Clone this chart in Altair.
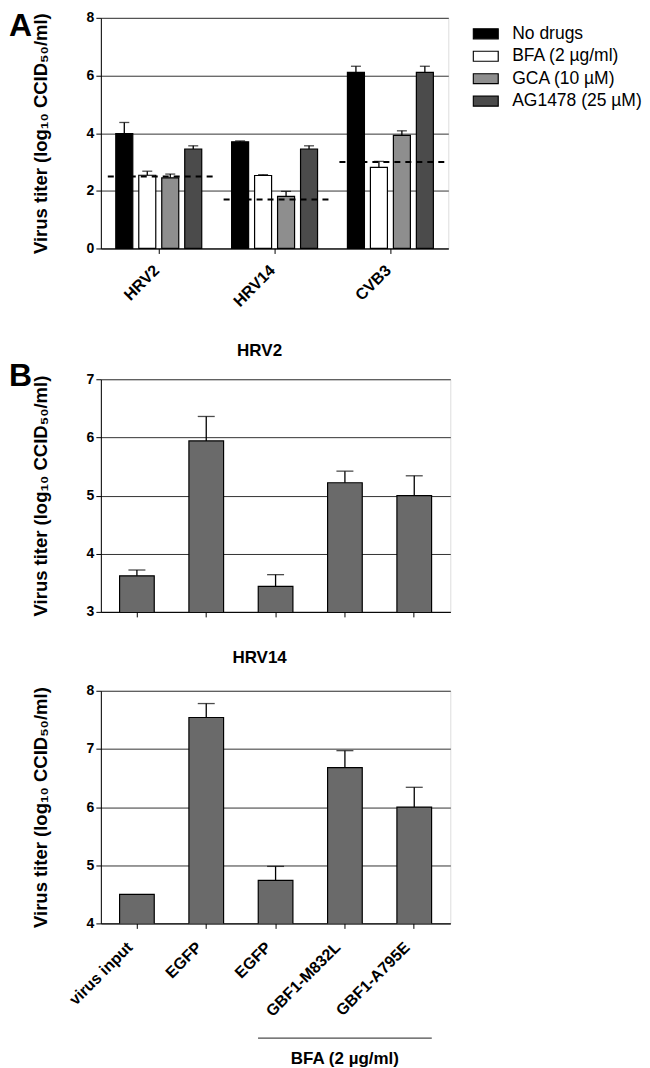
import altair as alt
import pandas as pd

FONT = "Liberation Sans"

# ---------------- Panel A data ----------------
groups = ["HRV2", "HRV14", "CVB3"]
drugs = ["No drugs", "BFA (2 µg/ml)", "GCA (10 µM)", "AG1478 (25 µM)"]
drug_colors = ["#000000", "#ffffff", "#8e8e8e", "#4b4b4b"]

titer_hrv2 = [3.98, 2.54, 2.45, 3.45]
upper_hrv2 = [4.37, 2.68, 2.58, 3.56]
titer_hrv14 = [3.70, 2.53, 1.81, 3.45]
upper_hrv14 = [3.73, 2.56, 1.98, 3.56]
titer_cvb3 = [6.11, 2.81, 3.92, 6.11]
upper_cvb3 = [6.32, 3.02, 4.08, 6.32]
detection_limit = [2.5, 1.7, 3.0]

# ---------------- Panel B data ----------------
cat_ids = ["c0", "c1", "c2", "c3", "c4"]
cat_labels = ["virus input", "EGFP", "EGFP", "GBF1-M832L", "GBF1-A795E"]
b_hrv2 = [3.62, 5.94, 3.44, 5.22, 5.00]
b_hrv2_upper = [3.72, 6.36, 3.64, 5.42, 5.34]
b_hrv14 = [4.50, 7.54, 4.74, 6.68, 6.00]
b_hrv14_upper = [None, 7.78, 4.98, 6.97, 6.34]

YTITLE = "Virus titer (log₁₀ CCID₅₀/ml)"

rowsA = []
for g, vals, ups in zip(groups, [titer_hrv2, titer_hrv14, titer_cvb3],
                        [upper_hrv2, upper_hrv14, upper_cvb3]):
    for d, v, u in zip(drugs, vals, ups):
        rowsA.append({"group": g, "drug": d, "titer": v, "upper": u})
dfA = pd.DataFrame(rowsA)
dfLim = pd.DataFrame({"i": list(range(len(groups))), "limit": detection_limit})

axis_common = dict(labelFont=FONT, labelFontWeight="bold", labelColor="black",
                   titleFont=FONT, titleFontWeight="bold", titleColor="black",
                   domainColor="black", tickColor="black", tickSize=5,
                   gridColor="#333333", gridWidth=1)

xA = alt.X("group:N", sort=groups, scale=alt.Scale(paddingInner=0, paddingOuter=0),
           axis=alt.Axis(title=None, labelAngle=-45, labelFontSize=16, grid=False,
                         labelAlign="right", labelBaseline="middle", labelPadding=14,
                         labelOffset=-2, **axis_common))
xoA = alt.XOffset("drug:N", sort=drugs, scale=alt.Scale(paddingInner=0.26, paddingOuter=0.65))
yA = alt.Y("titer:Q", scale=alt.Scale(domain=[0, 8], nice=False),
           axis=alt.Axis(values=[0, 2, 4, 6, 8], title=YTITLE, format="d",
                         labelFontSize=14, titleFontSize=18.5, titlePadding=36,
                         grid=True, **axis_common))

barsA = alt.Chart(dfA).mark_bar(stroke="black", strokeWidth=1.2).encode(
    x=xA, xOffset=xoA, y=yA,
    fill=alt.Fill("drug:N", sort=drugs,
                  scale=alt.Scale(domain=drugs, range=drug_colors),
                  legend=alt.Legend(title=None, orient="none", legendX=372, legendY=6,
                                    symbolType="M-1,-0.4H1V0.4H-1Z", symbolSize=625,
                                    symbolStrokeColor="black", symbolStrokeWidth=1.2,
                                    labelFont=FONT, labelFontSize=17.5, labelColor="black",
                                    labelOffset=13, clipHeight=20, rowPadding=2.5,
                                    padding=0)),
)
errA = alt.Chart(dfA).mark_rule(color="black", strokeWidth=1.3).encode(
    x=xA, xOffset=xoA, y=alt.Y("titer:Q"), y2="upper:Q")
capA = alt.Chart(dfA).mark_tick(color="black", thickness=1.3, size=10).encode(
    x=xA, xOffset=xoA, y=alt.Y("upper:Q"))
letterA = alt.Chart(pd.DataFrame({"t": ["A"]})).mark_text(
    font=FONT, fontWeight="bold", fontSize=32, align="left", baseline="top",
    color="black").encode(text="t:N", x=alt.value(-92), y=alt.value(-7))

limA = alt.Chart(dfLim).transform_calculate(
    lo="datum.i + 0.06", hi="datum.i + 0.97"
).mark_rule(color="black", strokeWidth=2, strokeDash=[6, 5]).encode(
    x=alt.X("lo:Q", scale=alt.Scale(domain=[0, 3], nice=False, zero=False), axis=None),
    x2="hi:Q",
    y=alt.Y("limit:Q"),
)

panelA = alt.layer(
    alt.layer(barsA, errA, capA, letterA), limA
).resolve_scale(x="independent").properties(width=348, height=231)

label_map = "{" + ",".join(f"'{i}':'{l}'" for i, l in zip(cat_ids, cat_labels)) + "}"


def panel_b(values, uppers, domain, title, show_labels, title_offset,
            letter=None, bracket=False):
    df = pd.DataFrame({"cat": cat_ids, "titer": values, "upper": uppers})
    lo, hi = domain
    x = alt.X("cat:N", sort=cat_ids, scale=alt.Scale(paddingInner=0.5, paddingOuter=0.27),
              axis=alt.Axis(title=None, labels=show_labels, labelAngle=-45,
                            labelAlign="right", labelBaseline="middle", labelPadding=16,
                            labelOffset=-7,
                            labelExpr=f"{label_map}[datum.value]", grid=False,
                            labelFontSize=16, **axis_common))
    y = alt.Y("titer:Q", scale=alt.Scale(domain=[lo, hi], nice=False, zero=False),
              axis=alt.Axis(values=list(range(lo, hi + 1)), title=YTITLE, format="d",
                            labelFontSize=14, titleFontSize=18.5, titlePadding=36,
                            grid=True, **axis_common))
    bars = alt.Chart(df).mark_bar(fill="#6a6a6a", stroke="black", strokeWidth=1.2,
                                  clip=True).encode(x=x, y=y)
    dfe = df.dropna()
    err = alt.Chart(dfe).mark_rule(color="black", strokeWidth=1.3).encode(
        x=x, y=alt.Y("titer:Q"), y2="upper:Q")
    cap = alt.Chart(dfe).mark_tick(color="black", thickness=1.3, size=17).encode(
        x=x, y=alt.Y("upper:Q"))
    layers = [bars, err, cap]
    if letter:
        layers.append(alt.Chart(pd.DataFrame({"t": [letter]})).mark_text(
            font=FONT, fontWeight="bold", fontSize=32, align="left", baseline="alphabetic",
            color="black").encode(text="t:N", x=alt.value(-92), y=alt.value(7)))
    if bracket:
        ann = pd.DataFrame({"cat": ["c3"], "t": ["BFA (2 µg/ml)"]})
        layers.append(alt.Chart(ann).mark_tick(color="black", thickness=1.3, size=174,
                                               orient="horizontal").encode(
            x=alt.X("cat:N", sort=cat_ids), y=alt.value(233 + 115)))
        layers.append(alt.Chart(ann).mark_text(
            font=FONT, fontWeight="bold", fontSize=17, color="black",
            baseline="middle").encode(
            x=alt.X("cat:N", sort=cat_ids), y=alt.value(233 + 136), text="t:N"))
    return alt.layer(*layers).properties(
        width=350, height=233,
        title=alt.TitleParams(title, font=FONT, fontSize=17, fontWeight="bold",
                              color="black", offset=title_offset, dx=-16))


panelB1 = panel_b(b_hrv2, b_hrv2_upper, (3, 7), "HRV2", False, 0, letter="B")
panelB2 = panel_b(b_hrv14, b_hrv14_upper, (4, 8), "HRV14", True, 17, bracket=True)

chart = alt.vconcat(
    panelA,
    alt.vconcat(panelB1, panelB2, spacing=28),
    spacing=31,
).properties(padding=0).configure_view(stroke="black", strokeWidth=1).configure(
    background="white")

chart.save("out.html", embed_options={"renderer": "svg", "actions": False})
